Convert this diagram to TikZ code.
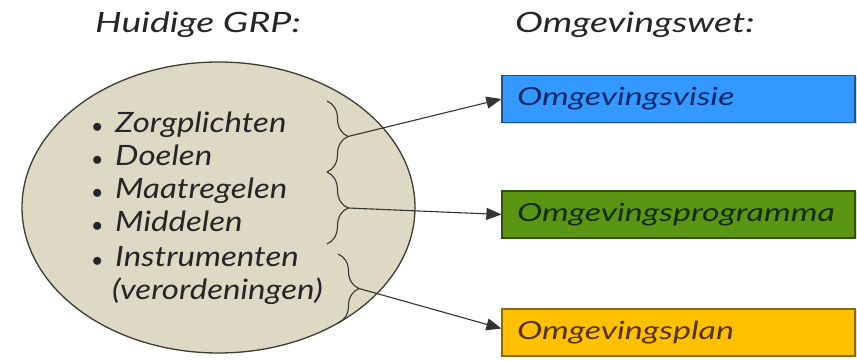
\documentclass[tikz,border=0pt]{standalone}
\usepackage{fontspec}
\setmainfont{Lato}
\usetikzlibrary{decorations.pathreplacing,arrows.meta,shadows,shapes.geometric}
\definecolor{elfill}{RGB}{221,217,196}
\definecolor{eldraw}{RGB}{60,60,50}
\definecolor{bblue}{RGB}{51,153,255}
\definecolor{bgreen}{RGB}{90,150,20}
\definecolor{byellow}{RGB}{255,192,0}
\definecolor{tblue}{RGB}{15,40,105}
\definecolor{tgreen}{RGB}{20,45,5}
\definecolor{tyellow}{RGB}{85,50,5}
\tikzset{
  box/.style={draw=#1!55!black, line width=1.2pt, minimum width=353pt, minimum height=47pt, inner sep=0pt,
    text width=323pt, align=left, font=\itshape\addfontfeature{FakeStretch=1.36}\fontsize{25}{28}\selectfont,
    drop shadow={shadow xshift=1.5pt, shadow yshift=-1.5pt, opacity=0.3}},
  item/.style={anchor=base west, font=\itshape\addfontfeature{FakeStretch=1.18}\fontsize{28}{30}\selectfont, text=black!85, inner sep=0pt},
  bul/.style={anchor=base west, font=\fontsize{20}{22}\selectfont, text=black!85, inner sep=0pt},
  title/.style={anchor=base west, font=\itshape\addfontfeature{FakeStretch=1.34}\fontsize{28}{30}\selectfont, text=black!85, inner sep=0pt},
  brc/.style={decorate, decoration={brace, amplitude=21pt, aspect=0.5}, draw=black!80, line width=1.1pt},
  conn/.style={draw=black!80, line width=1.1pt, -{Triangle[length=15pt,width=12pt]}}
}
\begin{document}
\begin{tikzpicture}[x=1pt,y=1pt]
\useasboundingbox (0,0) rectangle (857,361);
\node[title] (t1) at (95,328) {Huidige GRP:};
\node[title] (t2) at (515,328) {Omgevingswet:};
\node[draw=eldraw, fill=elfill, line width=1.3pt, ellipse, minimum width=393pt, minimum height=291pt] (el) at (218.5,153.5) {};
\foreach \y/\t [count=\i] in {228/Zorgplichten,195/Doelen,162/Maatregelen,129/Middelen,94/Instrumenten}{
  \node[bul] (b\i) at (92,\y) {$\bullet$};
  \node[item] (i\i) at (115,\y) {\t};
}
\node[item] (i6) at (112,61) {(verordeningen)};
\coordinate (ba1) at (327,260);
\coordinate (bb1) at (327,189);
\coordinate (ba2) at (327,189);
\coordinate (bb2) at (327,117);
\coordinate (ba3) at (338,107);
\coordinate (bb3) at (338,38);
\draw[brc] (ba1) -- (bb1);
\draw[brc] (ba2) -- (bb2);
\draw[brc] (ba3) -- (bb3);
\coordinate (tip1) at (348,224.5);
\coordinate (tip2) at (348,153);
\coordinate (tip3) at (359,72.5);
\node[box=bblue, fill=bblue, text=tblue] (v) at (678.5,262) {Omgevingsvisie};
\node[box=bgreen, fill=bgreen, text=tgreen] (p) at (678.5,146.5) {Omgevingsprogramma};
\node[box=byellow, fill=byellow, text=tyellow] (pl) at (678.5,28.5) {Omgevingsplan};
\draw[conn] (tip1) -- (v.west);
\draw[conn] (tip2) -- (p.west);
\draw[conn] (tip3) -- ([yshift=4pt]pl.west);
\end{tikzpicture}
\end{document}
